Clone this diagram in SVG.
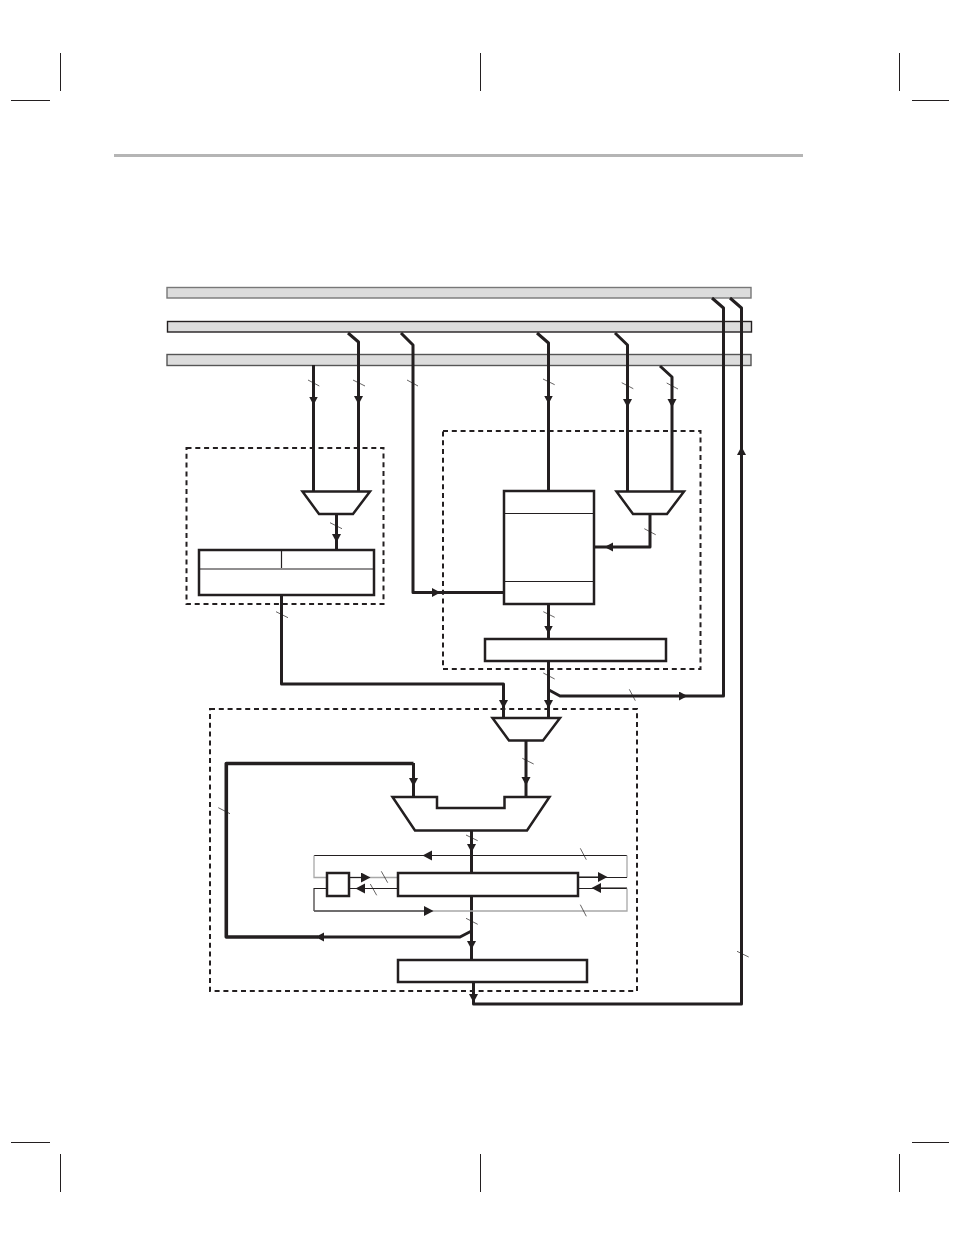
<svg xmlns="http://www.w3.org/2000/svg" width="954" height="1235" viewBox="0 0 954 1235">
<style>
.crop{stroke:#231f20;stroke-width:1;fill:none}
.bus{fill:#dcdcdc;stroke-width:1.4}
.dash{fill:none;stroke:#231f20;stroke-width:2;stroke-dasharray:5 3.8}
.box{fill:#fff;stroke:#231f20;stroke-width:2.5;stroke-linejoin:miter}
.div{stroke:#231f20;stroke-width:1.2;fill:none}
.w{fill:none;stroke:#231f20;stroke-width:3;stroke-linejoin:round}
.w3{stroke-width:3.6}
.t{fill:none;stroke:#231f20;stroke-width:1.1}
.g{fill:none;stroke:#a8a8a8;stroke-width:1.3}
.k{fill:none;stroke:#231f20;stroke-width:.7}
.ah{marker-end:url(#a)}
.ath{marker-end:url(#b)}
</style>
<defs>
<marker id="a" markerUnits="userSpaceOnUse" markerWidth="10" markerHeight="10" refX="5" refY="4.500" orient="auto"><path d="M0 0L8.500 4.500L0 9Z" fill="#231f20"/></marker>
<marker id="b" markerUnits="userSpaceOnUse" markerWidth="11" markerHeight="11" refX="6" refY="5" orient="auto"><path d="M0 0L9.500 5L0 10Z" fill="#231f20"/></marker>
</defs>
<g id="page-marks">
<path class="crop" d="M60.5 53V91M480.5 53V91M899.5 53V91M11 100.5H50M912 100.5H949M60.5 1154V1192M480.5 1154V1192M899.5 1154V1192M11 1142.5H50M912 1142.5H949"/>
<path d="M114 155.5H803" stroke="#b5b5b5" stroke-width="3" fill="none"/>
</g>
<g id="bus-1"><rect class="bus" x="167" y="287.5" width="584" height="10.5" stroke="#777"/></g>
<g id="bus-2"><rect class="bus" x="167.5" y="321.5" width="584" height="10.5" stroke="#231f20"/></g>
<g id="bus-3"><rect class="bus" x="167" y="354.5" width="584" height="11" stroke="#555"/></g>
<g id="region-left"><rect class="dash" x="186.5" y="448" width="197" height="156"/></g>
<g id="region-right"><rect class="dash" x="443" y="431" width="257.500" height="238"/></g>
<g id="region-bottom"><rect class="dash" x="210" y="709" width="427" height="282"/></g>
<g id="connectors">
<path class="w ah" d="M313.500 365V401.500"/><path class="w" d="M313.500 401V491"/>
<path class="w ah" d="M348 333L358.500 342V401"/><path class="w" d="M358.500 400V491"/>
<path class="w ah" d="M401 333L413 345V592.500H437"/><path class="w" d="M436 592.500H504"/>
<path class="w ah" d="M336.500 514V539"/><path class="w" d="M336.500 538V550"/>
<path class="w" d="M281.500 595V684H503.500V705"/><path class="w ah" d="M503.500 684V705"/><path class="w" d="M503.500 704V718"/>
<path class="w ah" d="M537 333L548.500 343V400.500"/><path class="w" d="M548.500 400V491"/>
<path class="w ah" d="M615 333L627.500 345V404"/><path class="w" d="M627.500 403V491"/>
<path class="w ah" d="M660 366L672 377V404"/><path class="w" d="M672 403V491"/>
<path class="w ah" d="M650 514V547H608"/><path class="w" d="M609 547H594"/>
<path class="w ah" d="M548.500 604V630.500"/><path class="w" d="M548.500 630V639"/>
<path class="w ah" d="M548.500 661V705"/><path class="w" d="M548.500 704V718"/>
<path class="w ah" d="M549 690L560 696H684"/><path class="w" d="M683 696H723.500V308L712 298"/>
<path class="w ah" d="M473.500 982V999"/><path class="w" d="M473.500 998V1004H741.500V453"/>
<path class="w ah" d="M741.500 460V450"/><path class="w" d="M741.500 452V308L730 298"/>
<path class="w ah" d="M526 741V782"/><path class="w" d="M526 781V797"/>
<path class="w w3" d="M413.500 763.500H226.300V937H318.500"/><path class="w ah" d="M413.500 763V783"/><path class="w" d="M413.500 782V797"/>
<path class="w ah" d="M471.500 931L460 937H319"/>
<path class="w ah" d="M471.500 830V849"/><path class="w" d="M471.500 848V873"/>
<path class="w ah" d="M471.500 896V946"/><path class="w" d="M471.500 945V960"/>
<path class="t ath" d="M472 855.500H426"/><path class="t" d="M314 855.500H627"/>
<path class="g" d="M314 855.500V877.500H327"/><path class="g" d="M627 855.500V877.500"/>
<path class="t" d="M578 877.500H627"/><path class="t ath" d="M578 877H604"/>
<path class="t" d="M578 888.500H627"/><path class="t ath" d="M627 888H595"/>
<path class="g" d="M349 877.500H398"/><path class="t ath" d="M349 877.500H367"/>
<path class="t" d="M349 888.500H398"/><path class="t ath" d="M398 888.500H359"/>
<path class="t" d="M327 888.500H314V911"/><path class="g" d="M314 911H627V888.500"/><path class="t ath" d="M314 911H430"/>
</g>
<g id="bus-ticks">
<path class="k" d="M308 380L319.300 386M353 380L365 386M407 380L418 386M330 522.700L342 528.700M276 611.700L288 617.700M543 379L554.700 384.700M621.700 382.700L633.300 388.700M666.700 383L678 389M644.300 528.700L655.700 534.700M543.300 611.700L554.700 617.300M543.300 673L554.700 679M629.300 689.300L635.300 700.700M218.300 807.700L230 813.700M466 835L477.700 840.700M381.300 871.300L387.700 882.700M370.300 884L376.700 895.300M466 918.300L477.700 924.300M522.300 758.300L533.700 764M580.300 848.300L586.300 859.700M580.300 904.700L586.300 916.300M737 951.300L748.700 957"/>
</g>
<g id="mux-left"><path class="box" d="M302.500 491.500H370L353 514H319Z"/></g>
<g id="register-left"><rect class="box" x="199" y="550" width="175" height="45"/><path class="div" d="M199 569H374M281.500 550V568"/></g>
<g id="memory"><rect class="box" x="504" y="491" width="90" height="113"/><path class="div" d="M504 513.500H594M504 581.500H594"/></g>
<g id="mux-right"><path class="box" d="M616.500 491.500H684L667 514H633Z"/></g>
<g id="register-right"><rect class="box" x="485" y="639" width="181" height="22"/></g>
<g id="mux-bottom"><path class="box" d="M492.500 718H560L543 740.500H509Z"/></g>
<g id="alu"><path class="box" d="M392.500 797H437V808H504.500V797H549.500L527 830.500H415Z"/></g>
<g id="accumulator"><rect class="box" x="398" y="873" width="180" height="23"/></g>
<g id="small-box"><rect class="box" x="327" y="873" width="22" height="23"/></g>
<g id="output-box"><rect class="box" x="398" y="960" width="189" height="22"/></g>
</svg>
